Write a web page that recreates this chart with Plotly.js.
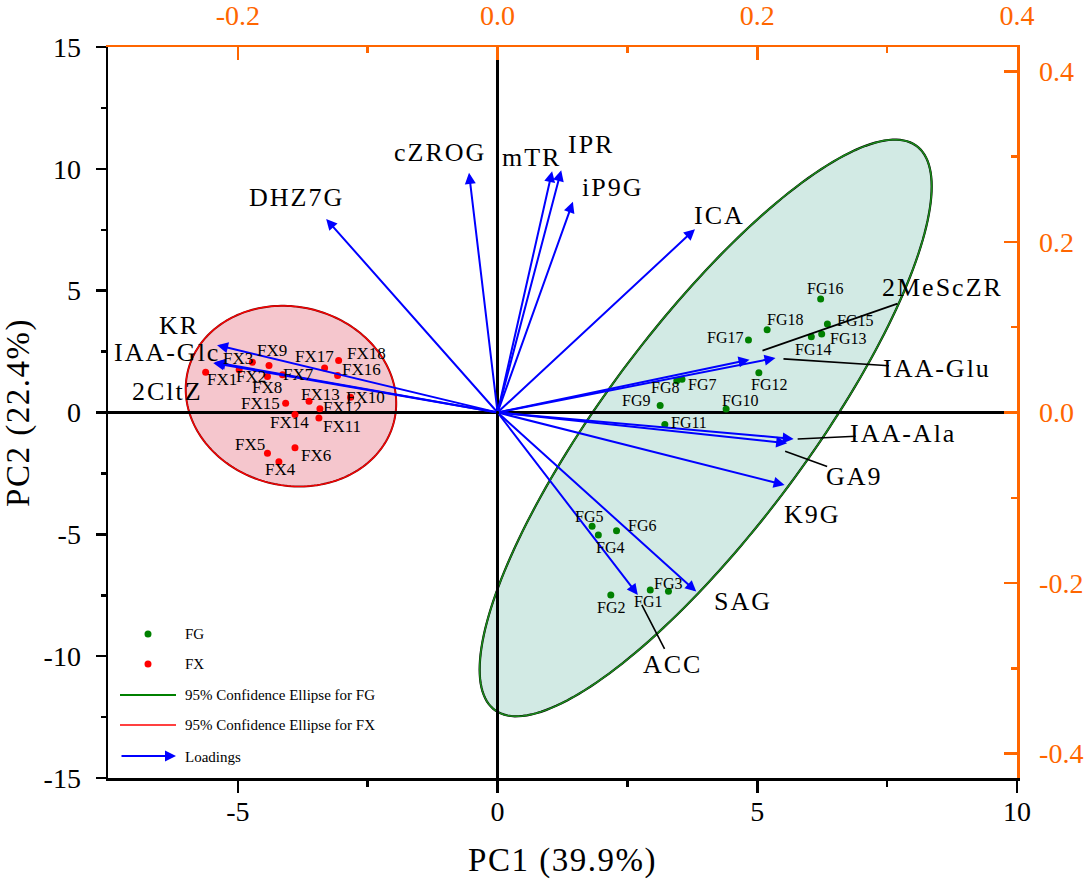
<!DOCTYPE html>
<html><head><meta charset="utf-8">
<script src="https://cdn.plot.ly/plotly-3.0.1.min.js"></script>
<style>
body{margin:0;background:#fff}
.xtitle,.ytitle{letter-spacing:1.5px}
</style></head><body>
<div id="chart" style="width:1084px;height:895px"></div>
<script>
// ---------------- data ----------------
const fgNames = ['FG1','FG2','FG3','FG4','FG5','FG6','FG7','FG8','FG9','FG10','FG11','FG12','FG13','FG14','FG15','FG16','FG17','FG18'];
const fgPC1 = [2.94,2.18,3.29,1.94,1.82,2.29,3.55,3.45,3.13,4.40,3.22,5.03,6.24,6.04,6.35,6.22,4.83,5.19];
const fgPC2 = [-7.28,-7.49,-7.34,-5.03,-4.67,-4.85,1.36,1.30,0.29,0.14,-0.49,1.63,3.22,3.11,3.63,4.66,2.98,3.40];

const fxNames = ['FX1','FX2','FX3','FX4','FX5','FX6','FX7','FX8','FX9','FX10','FX11','FX12','FX13','FX14','FX15','FX16','FX17','FX18'];
const fxPC1 = [-5.62,-4.975,-4.72,-4.21,-4.43,-3.90,-4.14,-4.43,-4.40,-2.83,-3.44,-3.42,-3.63,-3.90,-4.08,-3.08,-3.33,-3.06];
const fxPC2 = [1.65,1.75,2.06,-2.02,-1.67,-1.45,1.55,1.48,1.93,0.63,-0.23,0.15,0.46,-0.08,0.38,1.52,1.83,2.13];

const loadNames = ['DHZ7G','cZROG','mTR','IPR','iP9G','ICA','2MeScZR','IAA-Glu','IAA-Ala','GA9','K9G','SAG','ACC','KR','IAA-Glc','2CltZ'];
const loadPC1 = [-0.132,-0.022,0.042,0.049,0.058,0.152,0.194,0.214,0.228,0.223,0.221,0.153,0.108,-0.216,-0.218,-0.219];
const loadPC2 = [0.227,0.281,0.283,0.284,0.247,0.215,0.062,0.064,-0.031,-0.036,-0.085,-0.210,-0.214,0.079,0.059,0.058];

const xTickVals = [-5,0,5,10], xTickText = ['-5','0','5','10'];
const yTickVals = [-15,-10,-5,0,5,10,15], yTickText = ['-15','-10','-5','0','5','10','15'];
const x2TickVals = [-0.2,0,0.2,0.4], x2TickText = ['-0.2','0.0','0.2','0.4'];
const y2TickVals = [-0.4,-0.2,0,0.2,0.4], y2TickText = ['-0.4','-0.2','0.0','0.2','0.4'];

const F95 = 3.6337; // F(0.95; 2, 16)

// ---------------- styles / label offsets (pixels: dx right, dy down) ----------------
const fgOff = [[-2,12],[0,12],[0,-8],[12,12],[-3,-10],[25,-5],[20,5],[-12,7],[-24,-5],[14,-9],[24,-2],[10,12],[26,4],[2,13],[28,-4],[4,-10],[-23,-2],[18,-10]];
const fxOff = [[16,7],[12,7],[-14,-4],[2,8],[-17,-9],[21,8],[16,0],[0,11],[3,-15],[15,0],[23,8],[23,-1],[11,-7],[-5,8],[-25,0],[24,-6],[-10,-11],[28,-7]];
// loading label placement: [dx, dy] for plain; [sx, sy, ax, ay] for leader-line labels
const loadLbl = {
  'DHZ7G':[-30,-21],'cZROG':[-29,-20],'mTR':[-20,-14],'IPR':[30,-26],'iP9G':[40,-14],'ICA':[25,-14],
  'K9G':[28,30],'SAG':[47,10],'KR':[-38,-20],'IAA-Glc':[-47,-10],'2CltZ':[-46,28],
  '2MeScZR':[13,-9,181,-63],'IAA-Glu':[8,1,154,10],'IAA-Ala':[4,0,106,-5],'GA9':[-2,8,69,25],'ACC':[4,10,31,60]
};

const SERIF = 'Liberation Serif, Times New Roman, serif';
const ORANGE = '#FF6600';

// ---------------- helpers ----------------
function ellipsePath(xs, ys, fq){
  const n = xs.length;
  const mx = xs.reduce((a,b)=>a+b,0)/n, my = ys.reduce((a,b)=>a+b,0)/n;
  let sxx=0, syy=0, sxy=0;
  for(let i=0;i<n;i++){const dx=xs[i]-mx, dy=ys[i]-my; sxx+=dx*dx; syy+=dy*dy; sxy+=dx*dy;}
  sxx/=(n-1); syy/=(n-1); sxy/=(n-1);
  const k = Math.sqrt(2*(n-1)/(n-2)*fq);
  const a = Math.sqrt(sxx), b = sxy/a, c = Math.sqrt(syy-b*b);
  let p='';
  for(let i=0;i<=200;i++){
    const t=2*Math.PI*i/200;
    const x=mx+k*a*Math.cos(t), y=my+k*(b*Math.cos(t)+c*Math.sin(t));
    p+=(i?'L':'M')+x.toFixed(4)+','+y.toFixed(4);
  }
  return p+'Z';
}
const L=108, R=1017, T=47, B=778;
const px = v => (v-L)/(R-L);
const py = v => (B-v)/(B-T);

// ---------------- traces ----------------
const traces = [
  {type:'scatter', mode:'markers', x:fgPC1, y:fgPC2, name:'FG', marker:{color:'#008000', size:7}, showlegend:false, hoverinfo:'skip'},
  {type:'scatter', mode:'markers', x:fxPC1, y:fxPC2, name:'FX', marker:{color:'#FF0000', size:7}, showlegend:false, hoverinfo:'skip'},
  {type:'scatter', mode:'markers', x:loadPC1, y:loadPC2, xaxis:'x2', yaxis:'y2', name:'Loadings', marker:{opacity:0, size:1}, showlegend:false, hoverinfo:'skip'}
];

// ---------------- shapes ----------------
const fgPath = ellipsePath(fgPC1, fgPC2, F95);
const fxPath = ellipsePath(fxPC1, fxPC2, F95);
const shapes = [
  {type:'path', path:fgPath, xref:'x', yref:'y', fillcolor:'#D2EAE4', line:{color:'#000', width:2.2}, layer:'below'},
  {type:'path', path:fgPath, xref:'x', yref:'y', fillcolor:'rgba(0,0,0,0)', line:{color:'#1A8C1A', width:1.5}, layer:'below'},
  {type:'path', path:fxPath, xref:'x', yref:'y', fillcolor:'#F5C6CD', line:{color:'#7a1010', width:2}, layer:'below'},
  {type:'path', path:fxPath, xref:'x', yref:'y', fillcolor:'rgba(0,0,0,0)', line:{color:'#FF0000', width:1.2}, layer:'below'},
  // legend symbols
  {type:'circle', xref:'paper', yref:'paper', xsizemode:'pixel', ysizemode:'pixel', xanchor:px(148), yanchor:py(634), x0:-3.5, x1:3.5, y0:-3.5, y1:3.5, fillcolor:'#008000', line:{width:0}},
  {type:'circle', xref:'paper', yref:'paper', xsizemode:'pixel', ysizemode:'pixel', xanchor:px(148), yanchor:py(664), x0:-3.5, x1:3.5, y0:-3.5, y1:3.5, fillcolor:'#FF0000', line:{width:0}},
  {type:'line', xref:'paper', yref:'paper', x0:px(120), x1:px(176), y0:py(695), y1:py(695), line:{color:'#008000', width:2}},
  {type:'line', xref:'paper', yref:'paper', x0:px(120), x1:px(176), y0:py(725), y1:py(725), line:{color:'#FF0000', width:1.5}}
];

// ---------------- annotations ----------------
const ann = [];
loadNames.forEach((nm,i)=>{
  ann.push({x:loadPC1[i], y:loadPC2[i], xref:'x2', yref:'y2', ax:0, ay:0, axref:'x2', ayref:'y2',
    showarrow:true, arrowhead:2, arrowsize:1.1, arrowwidth:2, arrowcolor:'#0000FF', text:'', standoff:0});
});
loadNames.forEach((nm,i)=>{
  const o = loadLbl[nm];
  const font = {family:SERIF, size:26, color:'#000'};
  if(o.length>2){
    ann.push({x:loadPC1[i], y:loadPC2[i], xref:'x2', yref:'y2', xshift:o[0], yshift:-o[1], ax:o[2], ay:o[3],
      showarrow:true, arrowhead:0, arrowwidth:1.6, arrowcolor:'#000', text:nm, font:font, standoff:0, startstandoff:0});
  } else {
    ann.push({x:loadPC1[i], y:loadPC2[i], xref:'x2', yref:'y2', xshift:o[0], yshift:-o[1], showarrow:false, text:nm, font:font});
  }
});
fgNames.forEach((nm,i)=>{
  ann.push({x:fgPC1[i], y:fgPC2[i], xref:'x', yref:'y', xshift:fgOff[i][0], yshift:-fgOff[i][1], showarrow:false, text:nm,
    font:{family:SERIF, size:16, color:'#000'}});
});
fxNames.forEach((nm,i)=>{
  ann.push({x:fxPC1[i], y:fxPC2[i], xref:'x', yref:'y', xshift:fxOff[i][0], yshift:-fxOff[i][1], showarrow:false, text:nm,
    font:{family:SERIF, size:17, color:'#000'}});
});
// legend texts
const legItems = [['FG',634],['FX',664],['95% Confidence Ellipse for FG',695],['95% Confidence Ellipse for FX',725],['Loadings',757]];
legItems.forEach(it=>{
  ann.push({x:px(183), y:py(it[1]), xref:'paper', yref:'paper', xanchor:'left', yanchor:'middle', showarrow:false, text:it[0],
    font:{family:SERIF, size:15, color:'#000'}});
});
ann.push({x:px(176), y:py(756), xref:'paper', yref:'paper', ax:-56, ay:0, showarrow:true, arrowhead:2, arrowsize:1.1, arrowwidth:2, arrowcolor:'#0000FF', text:'', standoff:0});

// ---------------- layout ----------------
const tickFontK = {family:SERIF, size:28, color:'#000'};
const tickFontO = {family:SERIF, size:28, color:ORANGE};
const layout = {
  width:1084, height:895,
  margin:{l:L, r:1084-R, t:T, b:895-B},
  paper_bgcolor:'#fff', plot_bgcolor:'#fff',
  showlegend:false,
  xaxis:{range:[-7.5,10], tickmode:'array', tickvals:xTickVals, ticktext:xTickText, ticks:'outside', ticklen:12, tickwidth:2.5, tickcolor:'#000',
    minor:{tickvals:[-2.5,2.5,7.5], ticks:'outside', ticklen:6, tickwidth:2.5, tickcolor:'#000'},
    showline:true, linecolor:'#000', linewidth:2.5, showgrid:false, zeroline:true, zerolinecolor:'#000', zerolinewidth:2.5,
    tickfont:tickFontK, ticklabelstandoff:-5,
    title:{text:'PC1 (39.9%)', font:{family:SERIF, size:33, color:'#000'}, standoff:22}},
  yaxis:{range:[-15,15], tickmode:'array', tickvals:yTickVals, ticktext:yTickText, ticks:'outside', ticklen:10, tickwidth:2.5, tickcolor:'#000',
    minor:{tickvals:[-12.5,-7.5,-2.5,2.5,7.5,12.5], ticks:'outside', ticklen:5, tickwidth:2.5, tickcolor:'#000'},
    showline:true, linecolor:'#000', linewidth:2.5, showgrid:false, zeroline:true, zerolinecolor:'#000', zerolinewidth:2.5,
    tickfont:tickFontK, ticklabelstandoff:9,
    title:{text:'PC2 (22.4%)', font:{family:SERIF, size:33, color:'#000'}, standoff:6}},
  xaxis2:{overlaying:'x', side:'top', range:[-0.3,0.4], tickmode:'array', tickvals:x2TickVals, ticktext:x2TickText,
    ticks:'inside', ticklen:13, tickwidth:2.5, tickcolor:ORANGE,
    minor:{tickvals:[-0.1,0.1,0.3], ticks:'inside', ticklen:6, tickwidth:2.5, tickcolor:ORANGE},
    showline:true, linecolor:ORANGE, linewidth:2.5, showgrid:false, zeroline:false, tickfont:tickFontO, ticklabelstandoff:8},
  yaxis2:{overlaying:'y', side:'right', range:[-0.4286,0.4286], tickmode:'array', tickvals:y2TickVals, ticktext:y2TickText,
    ticks:'inside', ticklen:13, tickwidth:2.5, tickcolor:ORANGE,
    minor:{tickvals:[-0.3,-0.1,0.1,0.3], ticks:'inside', ticklen:6, tickwidth:2.5, tickcolor:ORANGE},
    showline:true, linecolor:ORANGE, linewidth:2.5, showgrid:false, zeroline:false, tickfont:tickFontO, ticklabelstandoff:14},
  shapes:shapes,
  annotations:ann
};

Plotly.newPlot('chart', traces, layout, {staticPlot:true}).then(gd=>{
  const set = new Set(loadNames);
  gd.querySelectorAll('.annotation-text').forEach(t=>{ if(set.has(t.textContent)) t.style.letterSpacing='2px'; });
});
</script>
</body></html>
